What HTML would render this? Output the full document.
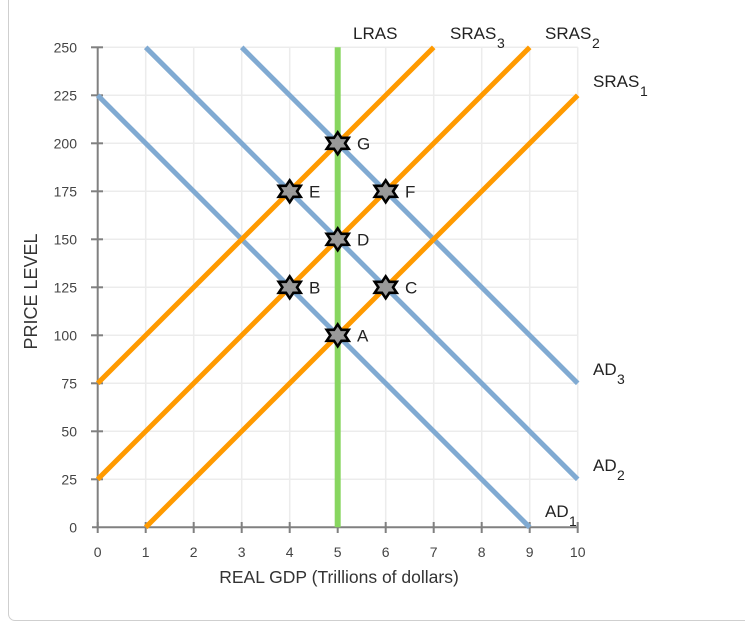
<!DOCTYPE html>
<html><head><meta charset="utf-8"><style>
html,body{margin:0;padding:0;background:#fff;}
body{width:745px;height:636px;position:relative;overflow:hidden;}
.box{position:absolute;left:8px;top:-20px;width:800px;height:641px;border:1px solid #cfcfcf;border-radius:7px;box-sizing:border-box;}
svg{position:absolute;left:0;top:0;}
text{font-family:"Liberation Sans",Arial,sans-serif;}
</style></head><body>
<div class="box"></div>
<svg width="745" height="636" viewBox="0 0 745 636" xmlns="http://www.w3.org/2000/svg">
<g stroke="#ececec" stroke-width="1.5">
<line x1="145.7" y1="47.3" x2="145.7" y2="527.3"/><line x1="193.7" y1="47.3" x2="193.7" y2="527.3"/><line x1="241.7" y1="47.3" x2="241.7" y2="527.3"/><line x1="289.7" y1="47.3" x2="289.7" y2="527.3"/><line x1="337.7" y1="47.3" x2="337.7" y2="527.3"/><line x1="385.7" y1="47.3" x2="385.7" y2="527.3"/><line x1="433.7" y1="47.3" x2="433.7" y2="527.3"/><line x1="481.7" y1="47.3" x2="481.7" y2="527.3"/><line x1="529.7" y1="47.3" x2="529.7" y2="527.3"/><line x1="577.7" y1="47.3" x2="577.7" y2="527.3"/>
<line x1="97.7" y1="47.3" x2="577.7" y2="47.3"/><line x1="97.7" y1="95.3" x2="577.7" y2="95.3"/><line x1="97.7" y1="143.3" x2="577.7" y2="143.3"/><line x1="97.7" y1="191.3" x2="577.7" y2="191.3"/><line x1="97.7" y1="239.3" x2="577.7" y2="239.3"/><line x1="97.7" y1="287.3" x2="577.7" y2="287.3"/><line x1="97.7" y1="335.3" x2="577.7" y2="335.3"/><line x1="97.7" y1="383.3" x2="577.7" y2="383.3"/><line x1="97.7" y1="431.3" x2="577.7" y2="431.3"/><line x1="97.7" y1="479.3" x2="577.7" y2="479.3"/>
</g>
<rect x="540" y="500" width="37" height="22" fill="#fff"/>
<g stroke="#808080" stroke-width="2">
<line x1="97.7" y1="47" x2="97.7" y2="528"/>
<line x1="92" y1="527.3" x2="578" y2="527.3"/>
<line x1="91" y1="47.3" x2="103" y2="47.3"/><line x1="91" y1="95.3" x2="103" y2="95.3"/><line x1="91" y1="143.3" x2="103" y2="143.3"/><line x1="91" y1="191.3" x2="103" y2="191.3"/><line x1="91" y1="239.3" x2="103" y2="239.3"/><line x1="91" y1="287.3" x2="103" y2="287.3"/><line x1="91" y1="335.3" x2="103" y2="335.3"/><line x1="91" y1="383.3" x2="103" y2="383.3"/><line x1="91" y1="431.3" x2="103" y2="431.3"/><line x1="91" y1="479.3" x2="103" y2="479.3"/>
<line x1="97.7" y1="522" x2="97.7" y2="533"/><line x1="145.7" y1="522" x2="145.7" y2="533"/><line x1="193.7" y1="522" x2="193.7" y2="533"/><line x1="241.7" y1="522" x2="241.7" y2="533"/><line x1="289.7" y1="522" x2="289.7" y2="533"/><line x1="337.7" y1="522" x2="337.7" y2="533"/><line x1="385.7" y1="522" x2="385.7" y2="533"/><line x1="433.7" y1="522" x2="433.7" y2="533"/><line x1="481.7" y1="522" x2="481.7" y2="533"/><line x1="529.7" y1="522" x2="529.7" y2="533"/><line x1="577.7" y1="522" x2="577.7" y2="533"/>
</g>
<g font-size="14" fill="#444" text-anchor="end">
<text x="77" y="52.3">250</text><text x="77" y="100.3">225</text><text x="77" y="148.3">200</text><text x="77" y="196.3">175</text><text x="77" y="244.3">150</text><text x="77" y="292.3">125</text><text x="77" y="340.3">100</text><text x="77" y="388.3">75</text><text x="77" y="436.3">50</text><text x="77" y="484.3">25</text><text x="77" y="532.3">0</text>
</g>
<g font-size="14" fill="#444" text-anchor="middle">
<text x="97.7" y="557">0</text><text x="145.7" y="557">1</text><text x="193.7" y="557">2</text><text x="241.7" y="557">3</text><text x="289.7" y="557">4</text><text x="337.7" y="557">5</text><text x="385.7" y="557">6</text><text x="433.7" y="557">7</text><text x="481.7" y="557">8</text><text x="529.7" y="557">9</text><text x="577.7" y="557">10</text>
</g>
<text x="339" y="583" font-size="17.5" fill="#333" text-anchor="middle">REAL GDP (Trillions of dollars)</text>
<text transform="translate(37,291.5) rotate(-90)" font-size="18" fill="#333" text-anchor="middle">PRICE LEVEL</text>
<g stroke="#80aad2" stroke-width="5" fill="none">
<line x1="97.7" y1="95.3" x2="529.7" y2="527.3"/>
<line x1="145.7" y1="47.3" x2="577.7" y2="479.3"/>
<line x1="241.7" y1="47.3" x2="577.7" y2="383.3"/>
</g>
<g stroke="#ff9a00" stroke-width="5" fill="none">
<line x1="145.7" y1="527.3" x2="577.7" y2="95.3"/>
<line x1="97.7" y1="479.3" x2="529.7" y2="47.3"/>
<line x1="97.7" y1="383.3" x2="433.7" y2="47.3"/>
</g>
<line x1="337.7" y1="47.3" x2="337.7" y2="527.3" stroke="#88d660" stroke-width="6"/>
<defs><polygon id="st" points="0,-11 3.67,-5.5 11,-5.5 7.33,0 11,5.5 3.67,5.5 0,11 -3.67,5.5 -11,5.5 -7.33,0 -11,-5.5 -3.67,-5.5" fill="#999" stroke="#000" stroke-width="2.6" stroke-linejoin="miter"/></defs>
<use href="#st" x="337.7" y="143.3"/>
<use href="#st" x="289.7" y="191.3"/>
<use href="#st" x="385.7" y="191.3"/>
<use href="#st" x="337.7" y="239.3"/>
<use href="#st" x="289.7" y="287.3"/>
<use href="#st" x="385.7" y="287.3"/>
<use href="#st" x="337.7" y="335.3"/>
<g font-size="17" fill="#222">
<text x="357" y="149.5">G</text>
<text x="309" y="197.5">E</text>
<text x="405" y="197.5">F</text>
<text x="357" y="245.5">D</text>
<text x="309" y="293.5">B</text>
<text x="405" y="293.5">C</text>
<text x="357" y="341.5">A</text>
<text x="353" y="39">LRAS</text>
<text x="450" y="39">SRAS</text><text x="497" y="48" font-size="14">3</text>
<text x="545" y="39">SRAS</text><text x="592" y="48" font-size="14">2</text>
<text x="593" y="87">SRAS</text><text x="640" y="96" font-size="14">1</text>
<text x="593" y="375">AD</text><text x="617" y="384" font-size="14">3</text>
<text x="593" y="471">AD</text><text x="617" y="480" font-size="14">2</text>
<text x="545" y="517">AD</text><text x="569" y="526" font-size="14">1</text>
</g>
</svg>
</body></html>
